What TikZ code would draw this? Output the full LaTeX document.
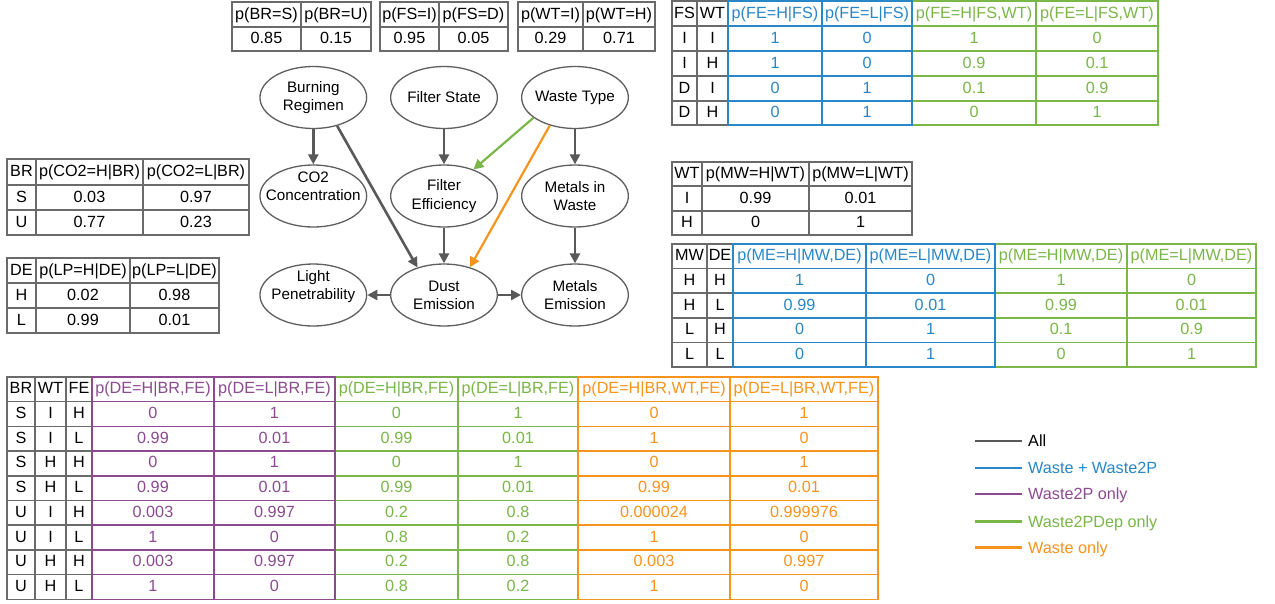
\documentclass[tikz,border=0pt]{standalone}
\usepackage{fontspec}
\setmainfont{Liberation Sans}
\usetikzlibrary{arrows.meta,shapes.geometric}
\definecolor{cK}{HTML}{000000}
\definecolor{cA}{HTML}{595959}
\definecolor{cL}{HTML}{6A6A6A}
\definecolor{cE}{HTML}{5F5F5F}
\definecolor{cB}{HTML}{2987C8}
\definecolor{cG}{HTML}{7AB648}
\definecolor{cP}{HTML}{8C4B91}
\definecolor{cO}{HTML}{F7941D}
\newcommand{\TGrid}[7]{%
  \foreach \xx in {#2} {\draw[#1] (\xx,#6) -- (\xx,#7);}%
  \foreach \yy in {#3} {\draw[#1] (#4,\yy) -- (#5,\yy);}%
}
\newcommand{\TRow}[3]{%
  \foreach \cx/\cc/\tx [count=\k] in {#3} {\node[celltext,text=\cc] (#1-\k) at (\cx,#2) {\tx};}%
}
\begin{document}
\begin{tikzpicture}[x=1pt,y=-1pt,
  lnK/.style={draw=cL,line width=1.5pt,line cap=rect},
  lnB/.style={draw=cB,line width=1.5pt,line cap=rect},
  lnG/.style={draw=cG,line width=1.5pt,line cap=rect},
  lnP/.style={draw=cP,line width=1.5pt,line cap=rect},
  lnO/.style={draw=cO,line width=1.5pt,line cap=rect},
  celltext/.style={font=\fontsize{16.2}{19}\selectfont,inner sep=0pt,anchor=base},
  ell/.style={ellipse,draw=cE,line width=1.3pt,fill=white,minimum width=106.7pt,minimum height=62pt,inner xsep=-15pt,inner ysep=-8pt,align=center,font=\fontsize{15.2}{18.3}\selectfont},
  arr/.style={draw=cA,line width=2.6pt,-{Triangle[length=10pt,width=10pt]}},
  arrG/.style={draw=cG,line width=2.2pt,-{Triangle[length=10pt,width=10pt]}},
  arrO/.style={draw=cO,line width=2.2pt,-{Triangle[length=10pt,width=10pt]}}]
\fill[white] (0,0) rectangle (1275,603);
\useasboundingbox (0,0) rectangle (1275,603);

% ---- prior tables ----
\TGrid{lnK}{232,301,371}{2,27,51}{232}{371}{2}{51}
\TRow{ta0}{19}{266.5/cK/p(BR=S), 336/cK/p(BR=U)}
\TRow{ta1}{43.5}{266.5/cK/0.85, 336/cK/0.15}
\TGrid{lnK}{380,439,508}{2,27,51}{380}{508}{2}{51}
\TRow{tb0}{19}{409.5/cK/p(FS=I), 473.5/cK/p(FS=D)}
\TRow{tb1}{43.5}{409.5/cK/0.95, 473.5/cK/0.05}
\TGrid{lnK}{518,583,655}{2,27,51}{518}{655}{2}{51}
\TRow{tc0}{19}{550.5/cK/p(WT=I), 619/cK/p(WT=H)}
\TRow{tc1}{43.5}{550.5/cK/0.29, 619/cK/0.71}

% ---- FE table ----
\TGrid{lnK}{672,697,728}{1,26,51,76,101,125}{672}{728}{1}{125}
\TGrid{lnG}{912,1036,1158}{1,26,51,76,101,125}{912}{1158}{1}{125}
\TGrid{lnB}{728,822,912}{1,26,51,76,101,125}{728}{912}{1}{125}
\TRow{fe0}{18}{684.5/cK/FS, 712.5/cK/WT, 775/cB/p(FE=H|FS), 867/cB/p(FE=L|FS), 974/cG/{p(FE=H|FS,WT)}, 1097/cG/{p(FE=L|FS,WT)}}
\TRow{fe1}{43}{684.5/cK/I, 712.5/cK/I, 775/cB/1, 867/cB/0, 974/cG/1, 1097/cG/0}
\TRow{fe2}{68}{684.5/cK/I, 712.5/cK/H, 775/cB/1, 867/cB/0, 974/cG/0.9, 1097/cG/0.1}
\TRow{fe3}{93}{684.5/cK/D, 712.5/cK/I, 775/cB/0, 867/cB/1, 974/cG/0.1, 1097/cG/0.9}
\TRow{fe4}{117.5}{684.5/cK/D, 712.5/cK/H, 775/cB/0, 867/cB/1, 974/cG/0, 1097/cG/1}

% ---- CO2 table ----
\TGrid{lnK}{7,36,143,249}{159,185,210,235}{7}{249}{159}{235}
\TRow{co0}{176.5}{21.5/cK/BR, 89.5/cK/p(CO2=H|BR), 196/cK/p(CO2=L|BR)}
\TRow{co1}{202}{21.5/cK/S, 89.5/cK/0.03, 196/cK/0.97}
\TRow{co2}{227}{21.5/cK/U, 89.5/cK/0.77, 196/cK/0.23}

% ---- LP table ----
\TGrid{lnK}{7,36,130,219}{258,283,308,333}{7}{219}{258}{333}
\TRow{lp0}{275}{21.5/cK/DE, 83/cK/p(LP=H|DE), 174.5/cK/p(LP=L|DE)}
\TRow{lp1}{300}{21.5/cK/H, 83/cK/0.02, 174.5/cK/0.98}
\TRow{lp2}{325}{21.5/cK/L, 83/cK/0.99, 174.5/cK/0.01}

% ---- MW table ----
\TGrid{lnK}{672,702,809,912}{162,186,211,235}{672}{912}{162}{235}
\TRow{mw0}{178.5}{687/cK/WT, 755.5/cK/p(MW=H|WT), 860.5/cK/p(MW=L|WT)}
\TRow{mw1}{203}{687/cK/I, 755.5/cK/0.99, 860.5/cK/0.01}
\TRow{mw2}{227.5}{687/cK/H, 755.5/cK/0, 860.5/cK/1}

% ---- ME table ----
\TGrid{lnK}{672,707,733}{244,268.5,293,318,342.5,367}{672}{733}{244}{367}
\TGrid{lnG}{995,1127,1256}{244,268.5,293,318,342.5,367}{995}{1256}{244}{367}
\TGrid{lnB}{733,866,995}{244,268.5,293,318,342.5,367}{733}{995}{244}{367}
\TRow{me0}{260.75}{689.5/cK/MW, 720/cK/DE, 799.5/cB/{p(ME=H|MW,DE)}, 930.5/cB/{p(ME=L|MW,DE)}, 1061/cG/{p(ME=H|MW,DE)}, 1191.5/cG/{p(ME=L|MW,DE)}}
\TRow{me1}{285.25}{689.5/cK/H, 720/cK/H, 799.5/cB/1, 930.5/cB/0, 1061/cG/1, 1191.5/cG/0}
\TRow{me2}{310}{689.5/cK/H, 720/cK/L, 799.5/cB/0.99, 930.5/cB/0.01, 1061/cG/0.99, 1191.5/cG/0.01}
\TRow{me3}{334.75}{689.5/cK/L, 720/cK/H, 799.5/cB/0, 930.5/cB/1, 1061/cG/0.1, 1191.5/cG/0.9}
\TRow{me4}{359.25}{689.5/cK/L, 720/cK/L, 799.5/cB/0, 930.5/cB/1, 1061/cG/0, 1191.5/cG/1}

% ---- DE table ----
\TGrid{lnK}{7,35,66,92}{377,401.7,426.4,451.1,475.8,500.5,525.2,549.9,574.6,599.3}{7}{92}{377}{599.3}
\TGrid{lnG}{335,458,578}{377,401.7,426.4,451.1,475.8,500.5,525.2,549.9,574.6,599.3}{335}{578}{377}{599.3}
\TGrid{lnP}{92,214,335}{377,401.7,426.4,451.1,475.8,500.5,525.2,549.9,574.6,599.3}{92}{335}{377}{599.3}
\TGrid{lnO}{578,730,878}{377,401.7,426.4,451.1,475.8,500.5,525.2,549.9,574.6,599.3}{578}{878}{377}{599.3}
\TRow{de0}{393.85}{21/cK/BR, 50.5/cK/WT, 79/cK/FE, 153/cP/{p(DE=H|BR,FE)}, 274.5/cP/{p(DE=L|BR,FE)}, 396.5/cG/{p(DE=H|BR,FE)}, 518/cG/{p(DE=L|BR,FE)}, 654/cO/{p(DE=H|BR,WT,FE)}, 804/cO/{p(DE=L|BR,WT,FE)}}
\TRow{de1}{418.55}{21/cK/S, 50.5/cK/I, 79/cK/H, 153/cP/0, 274.5/cP/1, 396.5/cG/0, 518/cG/1, 654/cO/0, 804/cO/1}
\TRow{de2}{443.25}{21/cK/S, 50.5/cK/I, 79/cK/L, 153/cP/0.99, 274.5/cP/0.01, 396.5/cG/0.99, 518/cG/0.01, 654/cO/1, 804/cO/0}
\TRow{de3}{467.95}{21/cK/S, 50.5/cK/H, 79/cK/H, 153/cP/0, 274.5/cP/1, 396.5/cG/0, 518/cG/1, 654/cO/0, 804/cO/1}
\TRow{de4}{492.65}{21/cK/S, 50.5/cK/H, 79/cK/L, 153/cP/0.99, 274.5/cP/0.01, 396.5/cG/0.99, 518/cG/0.01, 654/cO/0.99, 804/cO/0.01}
\TRow{de5}{517.35}{21/cK/U, 50.5/cK/I, 79/cK/H, 153/cP/0.003, 274.5/cP/0.997, 396.5/cG/0.2, 518/cG/0.8, 654/cO/0.000024, 804/cO/0.999976}
\TRow{de6}{542.05}{21/cK/U, 50.5/cK/I, 79/cK/L, 153/cP/1, 274.5/cP/0, 396.5/cG/0.8, 518/cG/0.2, 654/cO/1, 804/cO/0}
\TRow{de7}{566.75}{21/cK/U, 50.5/cK/H, 79/cK/H, 153/cP/0.003, 274.5/cP/0.997, 396.5/cG/0.2, 518/cG/0.8, 654/cO/0.003, 804/cO/0.997}
\TRow{de8}{591.45}{21/cK/U, 50.5/cK/H, 79/cK/L, 153/cP/1, 274.5/cP/0, 396.5/cG/0.8, 518/cG/0.2, 654/cO/1, 804/cO/0}

% ---- network ----
\node[ell] (br) at (313.3,97.5) {Burning\\Regimen};
\node[ell] (fs) at (444,97.5) {Filter State};
\node[ell] (wt) at (575,97.5) {Waste Type};
\node[ell] (co) at (313.3,196) {CO2\\Concentration\rule[-20pt]{0pt}{1pt}};
\node[ell] (fe) at (444,196) {Filter\\Efficiency};
\node[ell] (mw) at (575,196) {Metals in\\Waste};
\node[ell] (lp) at (313.3,295) {Light\\Penetrability\rule[-20pt]{0pt}{1pt}};
\node[ell] (de) at (444,295) {Dust\\Emission};
\node[ell] (me) at (575,295) {Metals\\Emission};

\draw[arr] (br) -- (co);
\draw[arr] (br.-50) -- (de.134);
\draw[arr] (fs) -- (fe);
\draw[arr] (fe) -- (de);
\draw[arr] (wt) -- (mw);
\draw[arr] (mw) -- (me);
\draw[arr] (de) -- (lp);
\draw[arr] (de) -- (me);
\draw[arrG] (wt.206) -- (fe.42);
\draw[arrO] (wt.228) -- (de.47);

% ---- legend ----
\foreach \yy/\lc/\tc/\tx [count=\k] in {441/cA/cK/All, 468/cB/cB/Waste + Waste2P, 494/cP/cP/Waste2P only, 521.5/cG/cG/Waste2PDep only, 547.5/cO/cO/Waste only} {
  \coordinate (la\k) at (975,\yy);
  \coordinate (lb\k) at (1022,\yy);
  \draw[draw=\lc,line width=2.4pt] (la\k) -- (lb\k);
  \node[celltext,anchor=base west,text=\tc] (lt\k) at (1028,\yy+5.7) {\tx};
}
\end{tikzpicture}
\end{document}
